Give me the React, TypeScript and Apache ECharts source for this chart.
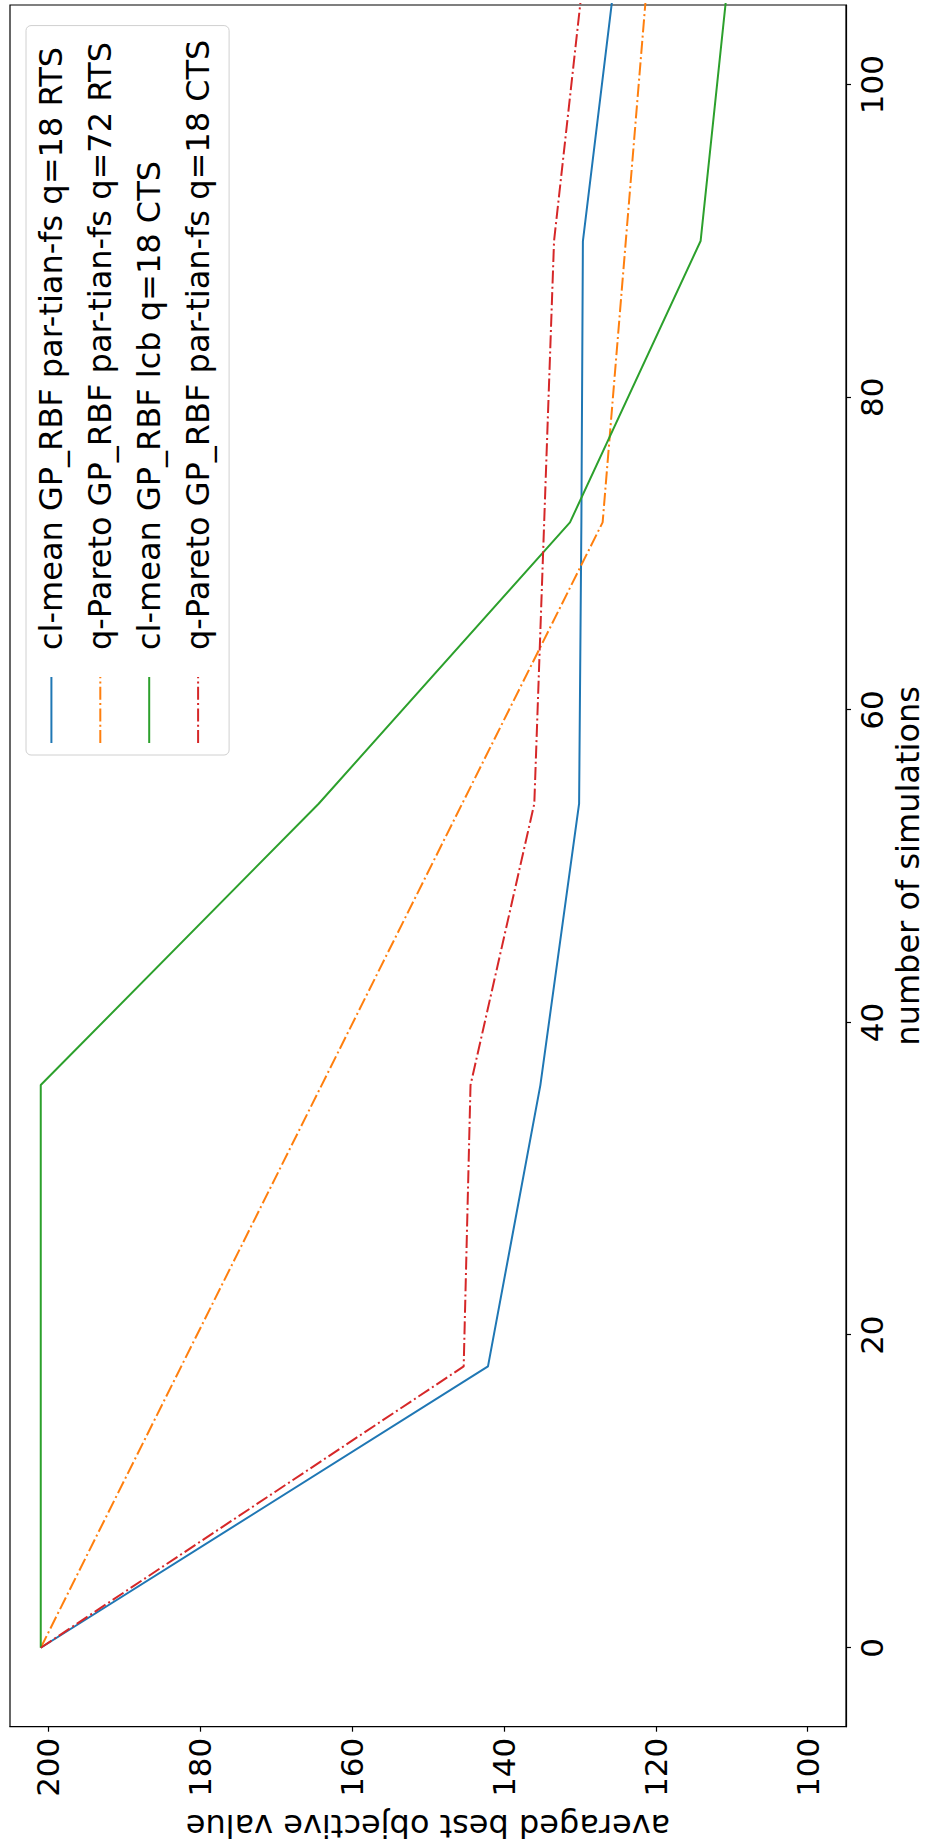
import React, { useEffect, useRef } from "react";
import * as echarts from "echarts";

// number of simulations (batches of 18)
const simulations = [0, 18, 36, 54, 72, 90, 108];
// batches of 72
const simulationsQ72 = [0, 72, 144];

const clMeanParTianRts = [201, 142.1, 135.2, 130.1, 129.8, 129.6, 125.1];
const qParetoParTianRts72 = [201, 127.0, 114.8];
const clMeanLcbCts = [201, 201, 201, 164.4, 131.3, 114.1, 110.2];
const qParetoParTianCts = [201, 145.3, 144.4, 136.0, 134.7, 133.4, 129.3];

const seriesNames = [
  "cl-mean GP_RBF par-tian-fs q=18 RTS",
  "q-Pareto GP_RBF par-tian-fs q=72 RTS",
  "cl-mean GP_RBF lcb q=18 CTS",
  "q-Pareto GP_RBF par-tian-fs q=18 CTS",
];
const seriesColors = ["#1f77b4", "#ff7f0e", "#2ca02c", "#d62728"];

const xTicks = [0, 20, 40, 60, 80, 100];
const yTicks = [100, 120, 140, 160, 180, 200];
const xRange = [-5.05, 105.1];
const yRange = [94.95, 205.05];

const xTitle = "number of simulations";
const yTitle = "averaged best objective value";

export default function App() {
  const ref = useRef<HTMLDivElement>(null);

  useEffect(() => {
    if (!ref.current) return;
    const chart = echarts.init(ref.current, null, { renderer: "svg" });
    const font = "'DejaVu Sans', sans-serif";
    const fs = 32;
    const tickFs = 31;
    const dashDot = [13, 3.3, 2, 3.3];

    const mk = (name: string, xs: number[], ys: number[], color: string, dashed: boolean) => ({
      name,
      type: "line",
      data: xs.map((x, i) => [x, ys[i]]),
      symbol: "none",
      showSymbol: false,
      clip: true,
      lineStyle: { color, width: 2, type: dashed ? dashDot : "solid", cap: "butt" },
      itemStyle: { color },
      emphasis: { disabled: true },
    });

    const axisCommon = {
      type: "value",
      splitLine: { show: false },
      axisLine: { show: true, onZero: false, lineStyle: { color: "#000", width: 1.2 } },
      axisTick: { show: true, inside: false, length: 5, lineStyle: { color: "#000", width: 1.2 } },
    };

    chart.setOption({
      animation: false,
      backgroundColor: "#ffffff",
      grid: {
        left: 118.3,
        top: 10,
        width: 1721.7,
        height: 836,
        show: true,
        borderColor: "#000",
        borderWidth: 1.2,
        backgroundColor: "transparent",
        containLabel: false,
        outerBoundsMode: "none",
      },
      xAxis: {
        ...axisCommon,
        position: "bottom",
        min: xRange[0],
        max: xRange[1],
        name: xTitle,
        nameLocation: "middle",
        nameGap: 46,
        nameTextStyle: { color: "#000", fontSize: fs, fontFamily: font, lineHeight: 30 },
        axisTick: { ...axisCommon.axisTick, customValues: xTicks },
        axisLabel: {
          customValues: xTicks,
          color: "#000",
          fontSize: tickFs,
          fontFamily: font,
          margin: 10,
        },
      },
      yAxis: {
        ...axisCommon,
        position: "left",
        min: yRange[0],
        max: yRange[1],
        name: yTitle,
        nameLocation: "middle",
        nameRotate: 90,
        nameGap: 84,
        nameTextStyle: { color: "#000", fontSize: fs, fontFamily: font, lineHeight: 30 },
        axisTick: { ...axisCommon.axisTick, customValues: yTicks },
        axisLabel: {
          customValues: yTicks,
          color: "#000",
          fontSize: tickFs,
          fontFamily: font,
          margin: 11,
        },
      },
      legend: {
        show: true,
        orient: "vertical",
        left: 1090,
        top: 26,
        padding: [9.4, 14, 15, 11],
        itemWidth: 66,
        itemHeight: 14,
        itemGap: 16.9,
        backgroundColor: "rgba(255,255,255,0.8)",
        borderColor: "#d0d0d0",
        borderWidth: 1,
        borderRadius: 5,
        data: seriesNames,
        itemStyle: { opacity: 0 },
        textStyle: {
          color: "#000",
          fontSize: fs,
          fontFamily: font,
          lineHeight: 32,
          padding: [0, 0, 0, 22],
        },
        selectedMode: false,
      },
      series: [
        mk(seriesNames[0], simulations, clMeanParTianRts, seriesColors[0], false),
        mk(seriesNames[1], simulationsQ72, qParetoParTianRts72, seriesColors[1], true),
        mk(seriesNames[2], simulations, clMeanLcbCts, seriesColors[2], false),
        mk(seriesNames[3], simulations, qParetoParTianCts, seriesColors[3], true),
      ],
    });

    return () => chart.dispose();
  }, []);

  return (
    <div
      style={{
        position: "fixed",
        left: 0,
        top: 0,
        width: 926,
        height: 1845,
        overflow: "hidden",
        background: "#ffffff",
      }}
    >
      <div
        ref={ref}
        style={{
          position: "absolute",
          left: 0,
          top: 0,
          width: 1845,
          height: 926,
          transformOrigin: "0 0",
          transform: "translateY(1845px) rotate(-90deg)",
        }}
      />
    </div>
  );
}
